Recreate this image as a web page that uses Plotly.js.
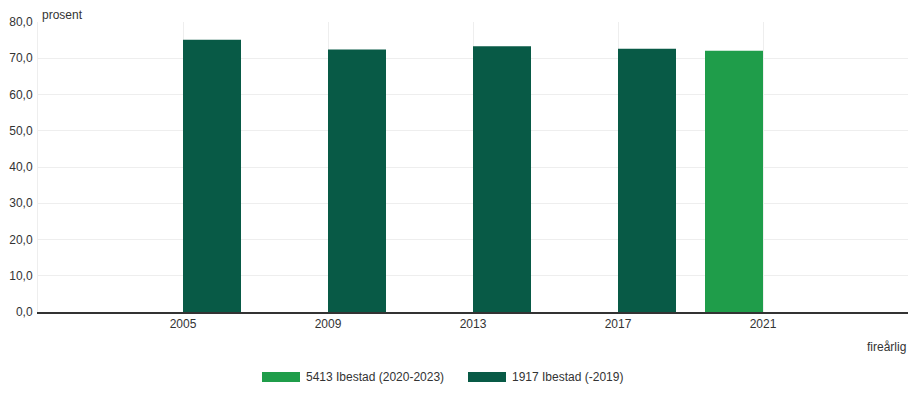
<!DOCTYPE html>
<html><head><meta charset="utf-8">
<script src="https://cdn.plot.ly/plotly-3.0.1.min.js"></script>
<style>html,body{margin:0;padding:0;background:#fff}#chart{width:909px;height:417px}</style>
</head><body><div id="chart"></div>
<script>
const seriesNames = ["5413 Ibestad (2020-2023)", "1917 Ibestad (-2019)"];
const yearsNew = [2021];
const valuesNew = [72.1];
const yearsOld = [2005, 2009, 2013, 2017];
const valuesOld = [75.1, 72.4, 73.3, 72.6];
const tickYears = [2005, 2009, 2013, 2017, 2021];
const colors = ["#1f9d4a", "#085a46"];

const barW = 1.6;
const traces = [
  {type:'bar', name:seriesNames[0], x:yearsNew, y:valuesNew, width:barW, offset:-barW, marker:{color:colors[0]}, showlegend:false},
  {type:'bar', name:seriesNames[1], x:yearsOld, y:valuesOld, width:barW, offset:0, marker:{color:colors[1]}, showlegend:false}
];
const font = {family:'"Liberation Sans", Arial, sans-serif', size:12, color:'#333'};
const lx = [(262-38)/870, (468-38)/870];
const shapes = [], ann = [];
seriesNames.forEach((n,i)=>{
  shapes.push({type:'rect', xref:'paper', yref:'paper', x0:lx[i], x1:lx[i]+38/870, y0:-0.2414, y1:-0.2069, fillcolor:colors[i], line:{width:0}});
  ann.push({xref:'paper', yref:'paper', x:lx[i]+42/870, y:-0.224, xanchor:'left', yanchor:'middle', text:n, showarrow:false, font:{family:font.family, size:12, color:'#333'}});
});
ann.push({xref:'paper', yref:'paper', x:2/870, y:1.0, yanchor:'bottom', xanchor:'left', text:'prosent', showarrow:false, font:{family:font.family, size:12, color:'#333'}, yshift:-2});
ann.push({xref:'paper', yref:'paper', x:1.0, y:-0.12, xanchor:'right', yanchor:'middle', text:'fireårlig', showarrow:false, font:{family:font.family, size:12, color:'#333'}});

const layout = {
  width:909, height:417,
  margin:{l:38, r:1, t:22, b:105},
  paper_bgcolor:'#fff', plot_bgcolor:'#fff',
  font:font,
  separators:',.',
  barmode:'overlay',
  showlegend:false,
  xaxis:{range:[2001,2025], tickvals:tickYears, ticktext:tickYears.map(String), showgrid:true, gridcolor:'#eeeeee', zeroline:false, showline:true, linecolor:'#333', linewidth:1.5, ticks:'', fixedrange:true},
  yaxis:{range:[0,80], dtick:10, tickformat:'.1f', showgrid:true, gridcolor:'#eeeeee', zeroline:false, showline:true, linecolor:'#eeeeee', ticks:'', ticklabelstandoff:2},
  shapes:shapes, annotations:ann
};
Plotly.newPlot('chart', traces, layout, {displayModeBar:false, staticPlot:true});
</script></body></html>
